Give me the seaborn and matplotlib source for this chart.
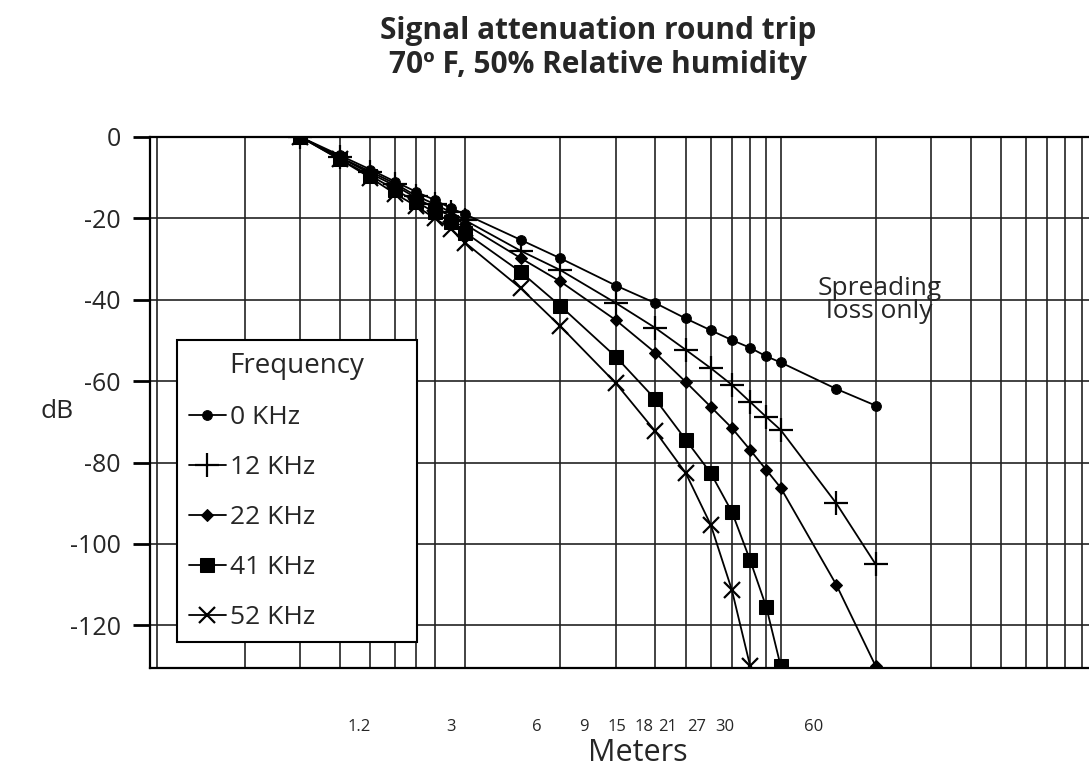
import numpy as np
import pandas as pd
import matplotlib
matplotlib.use("Agg")
import matplotlib.pyplot as plt
import seaborn as sns

# distances in chart grid units (log paper), dB values
dist = [1.5, 2, 2.5, 3, 3.5, 4, 4.5, 5, 7.5, 10, 15, 20, 25, 30, 35, 40, 45, 50, 75, 100]
db_0 = [0, -4.5, -8, -11, -13.5, -15.5, -17.5, -19, -25.3, -29.8, -36.5, -40.8, -44.6, -47.5, -49.9, -51.8, -53.9, -55.4, -61.9, -66]
db_12 = [0, -5, -8.5, -11.5, -14.5, -16.5, -18.5, -20.5, -28, -32.7, -40.8, -46.9, -52.3, -56.8, -60.9, -65.1, -68.8, -72, -90, -105]
db_22 = [0, -5, -9, -12, -15, -17.5, -19.5, -21.5, -29.8, -35.5, -45, -53, -60.2, -66.3, -71.5, -76.9, -81.8, -86.2, -110, -130]
db_41 = [0, -5.5, -9.5, -13, -16, -18.5, -21, -23.5, -33.2, -41.5, -54, -64.4, -74.4, -82.6, -92.1, -104, -115.5, -130]
db_52 = [0, -5.5, -10, -14, -17, -20, -22.5, -26, -37.2, -46.5, -60.5, -72.3, -82.6, -95.3, -111.3, -130]

freqs = ["0 KHz", "12 KHz", "22 KHz", "41 KHz", "52 KHz"]
series = [db_0, db_12, db_22, db_41, db_52]

tick_pos = [2.3, 4.5, 8.4, 11.9, 15.1, 18.4, 21.9, 27, 33.2, 63.8]
tick_lab = ["1.2", "3", "6", "9", "15", "18", "21", "27", "30", "60"]

grid_x = [0.525, 1, 1.5, 2, 2.5, 3, 3.5, 4, 4.5, 5,
          10, 15, 20, 25, 30, 35, 40, 45, 50,
          100, 150, 200, 250, 300, 350, 400, 450]

df = pd.concat([pd.DataFrame({"Meters": dist[:len(v)], "dB": v, "Frequency": f})
                for f, v in zip(freqs, series)], ignore_index=True)

sns.set_style("white")
plt.rcParams["font.family"] = ["Open Sans", "DejaVu Sans"]

fig = plt.figure(figsize=(10.89, 7.66), dpi=100)
ax = fig.add_axes([150/1089, 1-668/766, 1-150/1089, (668-137)/766])

styles = {
    "0 KHz": dict(marker="o", markersize=7),
    "12 KHz": dict(marker="+", markersize=17, markeredgewidth=1.6),
    "22 KHz": dict(marker="D", markersize=6.5),
    "41 KHz": dict(marker="s", markersize=10),
    "52 KHz": dict(marker="x", markersize=12, markeredgewidth=1.6),
}
for f in freqs:
    sub = df[df["Frequency"] == f]
    sns.lineplot(data=sub, x="Meters", y="dB", color="black", linewidth=1.3,
                 markeredgecolor="black", label=f, ax=ax, zorder=3, **styles[f])

ax.set_xscale("log")
ax.set_xlim(0.5, 475)
ax.set_ylim(-130.5, 0)

ax.set_xticks(grid_x, minor=True)
ax.set_xticks(tick_pos)
ax.set_xticklabels(tick_lab, fontsize=12)
ax.xaxis.set_minor_formatter(matplotlib.ticker.NullFormatter())
ax.tick_params(axis="x", which="both", length=0, pad=37)
ax.grid(which="minor", axis="x", color="#222222", linewidth=1.2)
ax.grid(which="major", axis="x", visible=False)

ax.set_yticks([0, -20, -40, -60, -80, -100, -120])
ax.set_yticklabels(["0", "-20", "-40", "-60", "-80", "-100", "-120"], fontsize=18)
ax.tick_params(axis="y", length=12, width=2, pad=9, left=True, color="black")
ax.grid(which="major", axis="y", color="#222222", linewidth=1.2)

for s in ["left", "top", "bottom"]:
    ax.spines[s].set_color("black")
    ax.spines[s].set_linewidth(1.6)
ax.spines["right"].set_visible(False)

ax.set_xlabel("Meters", fontsize=22)
ax.xaxis.set_label_coords((638-150)/939, (668-738)/531)
ax.set_ylabel("dB", fontsize=19, rotation=0, va="center", ha="center")
ax.yaxis.set_label_coords((57-150)/939, (668-412)/531)

ax.text(103, -40, "Spreading\nloss only", fontsize=19, ha="center", va="center",
        linespacing=0.9)

leg = ax.legend(title="Frequency", loc="upper left",
                bbox_to_anchor=((177-150)/939, (668-340)/531, (417-177)/939, 0),
                mode="expand", borderaxespad=0,
                fontsize=19, title_fontsize=20, frameon=True, fancybox=False,
                framealpha=1, edgecolor="black", handlelength=1.4,
                handletextpad=0.15, labelspacing=0.95, borderpad=0.45)
leg.get_frame().set_linewidth(1.5)

fig.text(598/1089, 1-48/766, "Signal attenuation round trip\n70º F, 50% Relative humidity",
         ha="center", va="center", fontsize=21.5, fontweight="bold", linespacing=1.15)

fig.savefig("out.png", dpi=100)
